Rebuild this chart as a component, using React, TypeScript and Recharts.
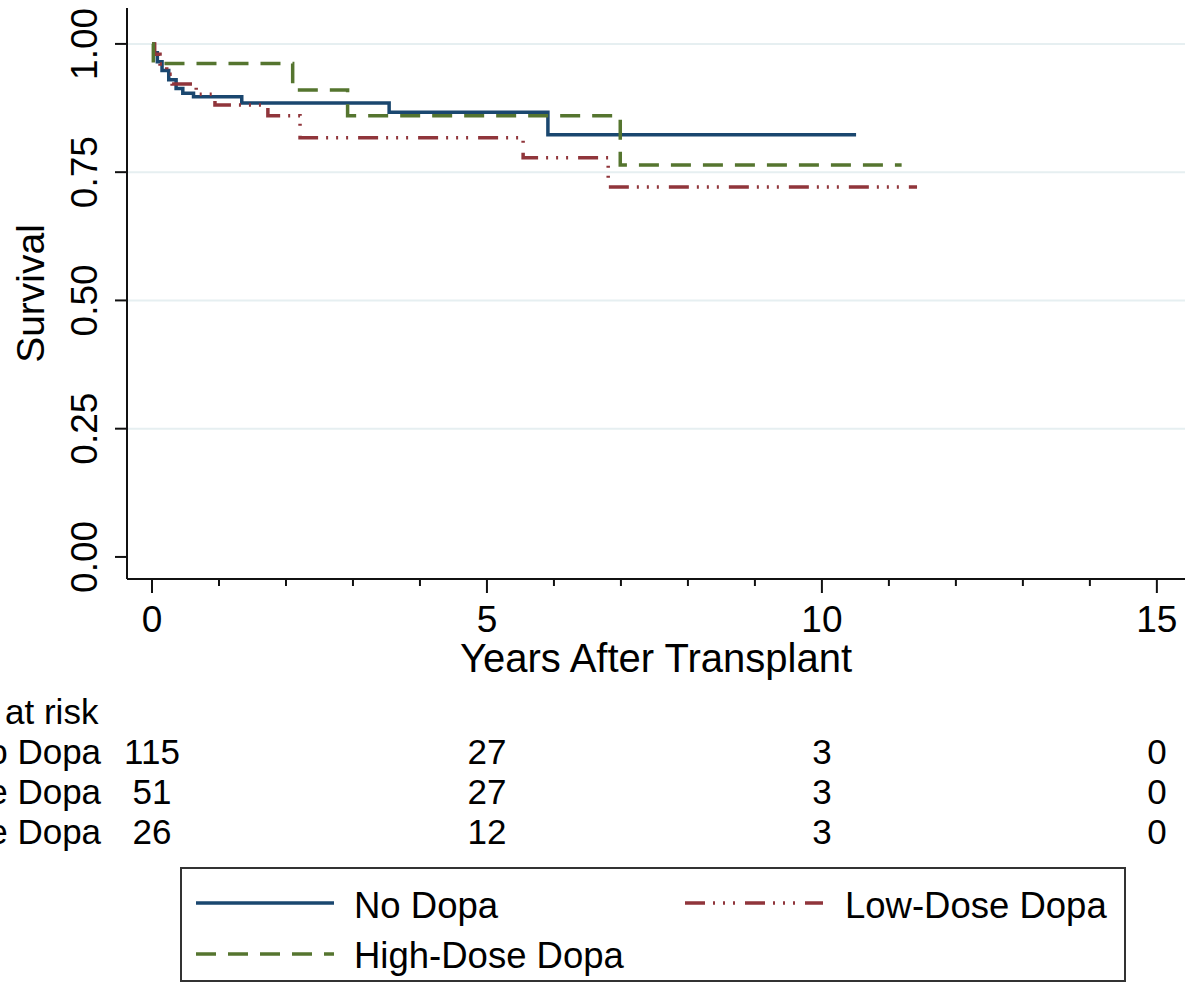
import { LineChart, Line, XAxis, YAxis, ReferenceLine, ReferenceDot, Legend } from "recharts"

const FONT = "'Liberation Sans', Arial, Helvetica, sans-serif"

// Kaplan-Meier estimates (years, survival)
const noDopa = [
  { t: 0, s: 1 },
  { t: 0.03, s: 0.983 },
  { t: 0.08, s: 0.965 },
  { t: 0.15, s: 0.948 },
  { t: 0.25, s: 0.93 },
  { t: 0.36, s: 0.913 },
  { t: 0.46, s: 0.904 },
  { t: 0.62, s: 0.897 },
  { t: 1.34, s: 0.885 },
  { t: 3.54, s: 0.867 },
  { t: 5.91, s: 0.823 },
  { t: 10.51, s: 0.823 },
]

const lowDose = [
  { t: 0, s: 1 },
  { t: 0.04, s: 0.98 },
  { t: 0.12, s: 0.961 },
  { t: 0.22, s: 0.941 },
  { t: 0.3, s: 0.922 },
  { t: 0.66, s: 0.902 },
  { t: 0.94, s: 0.881 },
  { t: 1.73, s: 0.86 },
  { t: 2.21, s: 0.817 },
  { t: 5.54, s: 0.778 },
  { t: 6.81, s: 0.721 },
  { t: 11.42, s: 0.721 },
]

const highDose = [
  { t: 0, s: 1 },
  { t: 0.02, s: 0.962 },
  { t: 2.1, s: 0.91 },
  { t: 2.92, s: 0.86 },
  { t: 6.99, s: 0.764 },
  { t: 11.19, s: 0.764 },
]

const xTicks = [0, 1, 2, 3, 4, 5, 6, 7, 8, 9, 10, 11, 12, 13, 14, 15]
const yTicks = [0, 0.25, 0.5, 0.75, 1]
const gridValues = [0.25, 0.5, 0.75, 1]

const riskTimes = [0, 5, 10, 15]
const riskNoDopa = [115, 27, 3, 0]
const riskLowDose = [51, 27, 3, 0]
const riskHighDose = [26, 12, 3, 0]

const series = [
  { key: "no", name: "No Dopa", data: noDopa, color: "#1a476f", dash: undefined as string | undefined },
  { key: "low", name: "Low-Dose Dopa", data: lowDose, color: "#90353b", dash: "20 8 2 8 2 8 2 10" },
  { key: "high", name: "High-Dose Dopa", data: highDose, color: "#55752f", dash: "20 12" },
]

const riskRows = [
  { label: "No Dopa", counts: riskNoDopa },
  { label: "Low-Dose Dopa", counts: riskLowDose },
  { label: "High-Dose Dopa", counts: riskHighDose },
]

// risk table sits below the axis, expressed in survival units
const TITLE_ROW = -0.302
const ROW_STEP = 0.078
const LABEL_T = -0.76
const TITLE_T = -0.8

function XTick(props: any) {
  const { x, y, payload } = props
  const major = payload.value % 5 === 0
  return (
    <g>
      <line x1={x} x2={x} y1={y} y2={y + (major ? 14 : 7)} stroke="#111" strokeWidth={2} />
      {major && (
        <text x={x} y={y + 53} textAnchor="middle" fontSize={37} fontFamily={FONT} fill="#000">
          {payload.value}
        </text>
      )}
    </g>
  )
}

function YTick(props: any) {
  const { x, y, payload } = props
  return (
    <text
      transform={`translate(${x - 18},${y}) rotate(-90)`}
      textAnchor="middle"
      fontSize={37}
      fontFamily={FONT}
      fill="#000"
    >
      {payload.value.toFixed(2)}
    </text>
  )
}

const textShape = (text: string | number, anchor: string) => (p: any) => (
  <text x={p.cx} y={p.cy + 12} textAnchor={anchor} fontSize={35} fontFamily={FONT} fill="#000">
    {text}
  </text>
)

function LegendBox(props: any) {
  const payload = props.payload || []
  const slots = [
    { lx: 14, ly: 34, tx: 172, ty: 49 },
    { lx: 503, ly: 34, tx: 663, ty: 49 },
    { lx: 14, ly: 85, tx: 172, ty: 99 },
  ]
  return (
    <div
      style={{
        width: 946,
        height: 115,
        border: "2px solid #333",
        boxSizing: "border-box",
        background: "#fff",
        position: "relative",
      }}
    >
      <svg width={942} height={111} style={{ position: "absolute", left: 0, top: 0 }}>
        {series.map((info, i) => {
          const s = slots[i]
          const entry = payload.find((p: any) => p.value === info.name)
          const color = entry ? entry.color : info.color
          return (
            <g key={info.key}>
              <line
                x1={s.lx}
                x2={s.lx + 138}
                y1={s.ly}
                y2={s.ly}
                stroke={color}
                strokeWidth={3.5}
                strokeDasharray={info.dash}
              />
              <text x={s.tx} y={s.ty} fontSize={36.5} fontFamily={FONT} fill="#000">
                {info.name}
              </text>
            </g>
          )
        })}
      </svg>
    </div>
  )
}

export default function App() {
  return (
    <div style={{ position: "absolute", left: 0, top: 0, width: 1199, height: 986, background: "#fff" }}>
      <LineChart width={1199} height={986} margin={{ top: 8, right: 14, bottom: 307, left: 0 }}>
        {gridValues.map((v) => (
          <ReferenceLine key={v} y={v} stroke="#e6eff1" strokeWidth={2} />
        ))}
        <XAxis
          dataKey="t"
          type="number"
          domain={[-0.373, 15.42]}
          ticks={xTicks}
          interval={0}
          tickSize={0}
          tickMargin={0}
          tickLine={false}
          tick={<XTick />}
          height={100}
          axisLine={{ stroke: "#111", strokeWidth: 2 }}
          allowDataOverflow
          label={{
            value: "Years After Transplant",
            position: "insideBottom",
            offset: 7,
            fontSize: 40,
            fontFamily: FONT,
            fill: "#000",
          }}
        />
        <YAxis
          type="number"
          dataKey="s"
          domain={[-0.043, 1.07]}
          ticks={yTicks}
          interval={0}
          width={127}
          tickSize={12}
          tickMargin={0}
          tickLine={{ stroke: "#111", strokeWidth: 2 }}
          axisLine={{ stroke: "#111", strokeWidth: 2 }}
          tick={<YTick />}
          allowDataOverflow
          label={{
            value: "Survival",
            angle: -90,
            position: "insideLeft",
            offset: 30,
            fontSize: 39,
            fontFamily: FONT,
            fill: "#000",
            style: { textAnchor: "middle" },
          }}
        />
        {series.map((s) => (
          <Line
            key={s.key}
            data={s.data}
            dataKey="s"
            name={s.name}
            type="stepAfter"
            stroke={s.color}
            strokeWidth={3.5}
            strokeDasharray={s.dash}
            dot={false}
            activeDot={false}
            isAnimationActive={false}
          />
        ))}
        <ReferenceDot
          x={TITLE_T}
          y={TITLE_ROW}
          r={0}
          ifOverflow="visible"
          shape={textShape("Number at risk", "end")}
        />
        {riskRows.map((row, i) => (
          <ReferenceDot
            key={row.label}
            x={LABEL_T}
            y={TITLE_ROW - ROW_STEP * (i + 1)}
            r={0}
            ifOverflow="visible"
            shape={textShape(row.label, "end")}
          />
        ))}
        {riskRows.map((row, i) =>
          riskTimes.map((t, j) => (
            <ReferenceDot
              key={row.label + t}
              x={t}
              y={TITLE_ROW - ROW_STEP * (i + 1)}
              r={0}
              ifOverflow="visible"
              shape={textShape(row.counts[j], "middle")}
            />
          ))
        )}
        <Legend
          layout="horizontal"
          verticalAlign="middle"
          align="center"
          wrapperStyle={{ left: 180, top: 867, width: 946, height: 115 }}
          content={<LegendBox />}
        />
      </LineChart>
    </div>
  )
}
